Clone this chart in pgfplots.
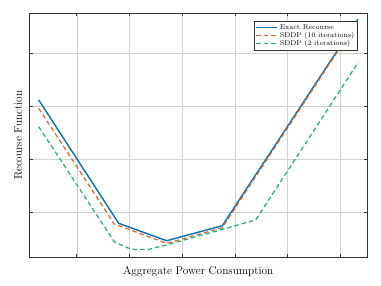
\documentclass[border=0pt]{standalone}
\usepackage{pgfplots}
\pgfplotsset{compat=1.18}
\definecolor{mblue}{rgb}{0,0.447,0.741}
\definecolor{morange}{RGB}{222,100,35}
\definecolor{mgreen}{RGB}{30,170,125}
\begin{document}
\begin{tikzpicture}
\begin{axis}[
  scale only axis, width=337.5pt, height=243.5pt,
  xmin=0.104, xmax=6.51, ymin=0.157, ymax=4.75,
  xtick={1,2,3,4,5,6}, ytick={1,2,3,4},
  xticklabels={}, yticklabels={},
  tick align=inside, major tick length=3pt,
  tick style={black!80, line width=0.5pt},
  grid=major, grid style={gray!35, line width=0.4pt},
  axis line style={black!80, line width=0.6pt},
  xlabel={Aggregate Power Consumption},
  ylabel={Recourse Function},
  label style={font=\fontsize{11.3}{13}\selectfont},
  xlabel style={yshift=1pt},
  ylabel style={yshift=-3pt},
  legend style={at={(0.972,0.969)}, anchor=north east, font=\fontsize{7}{8}\selectfont,
    draw=black!80, line width=0.5pt, inner sep=1pt, row sep=-2.5pt},
  legend image code/.code={\draw[#1] (0pt,0pt) -- (21pt,0pt);},
  legend cell align=left,
]
\addplot[mblue, line width=1.4pt] coordinates {(0.279,3.119) (1.797,0.792) (2.708,0.464) (3.763,0.747) (6.338,4.642)};
\addlegendentry{Exact Recourse}
\addplot[morange, line width=1.2pt, dash pattern=on 4.5pt off 3pt] coordinates {(0.279,2.962) (1.713,0.779) (2.708,0.415) (3.763,0.709) (6.319,4.591)};
\addlegendentry{SDDP (10 iterations)}
\addplot[mgreen, line width=1.2pt, dash pattern=on 4.5pt off 3pt] coordinates {(0.279,2.615) (1.713,0.445) (1.99,0.32) (2.14,0.295) (2.36,0.300) (2.708,0.385) (4.397,0.855) (6.344,3.830)};
\addlegendentry{SDDP (2 iterations)}
\end{axis}
\path (current axis.south west) ++(-29.5pt,-29pt) coordinate (bbA);
\path (current axis.north east) ++(14pt,13.5pt) coordinate (bbB);
\useasboundingbox (bbA) rectangle (bbB);
\end{tikzpicture}
\end{document}
